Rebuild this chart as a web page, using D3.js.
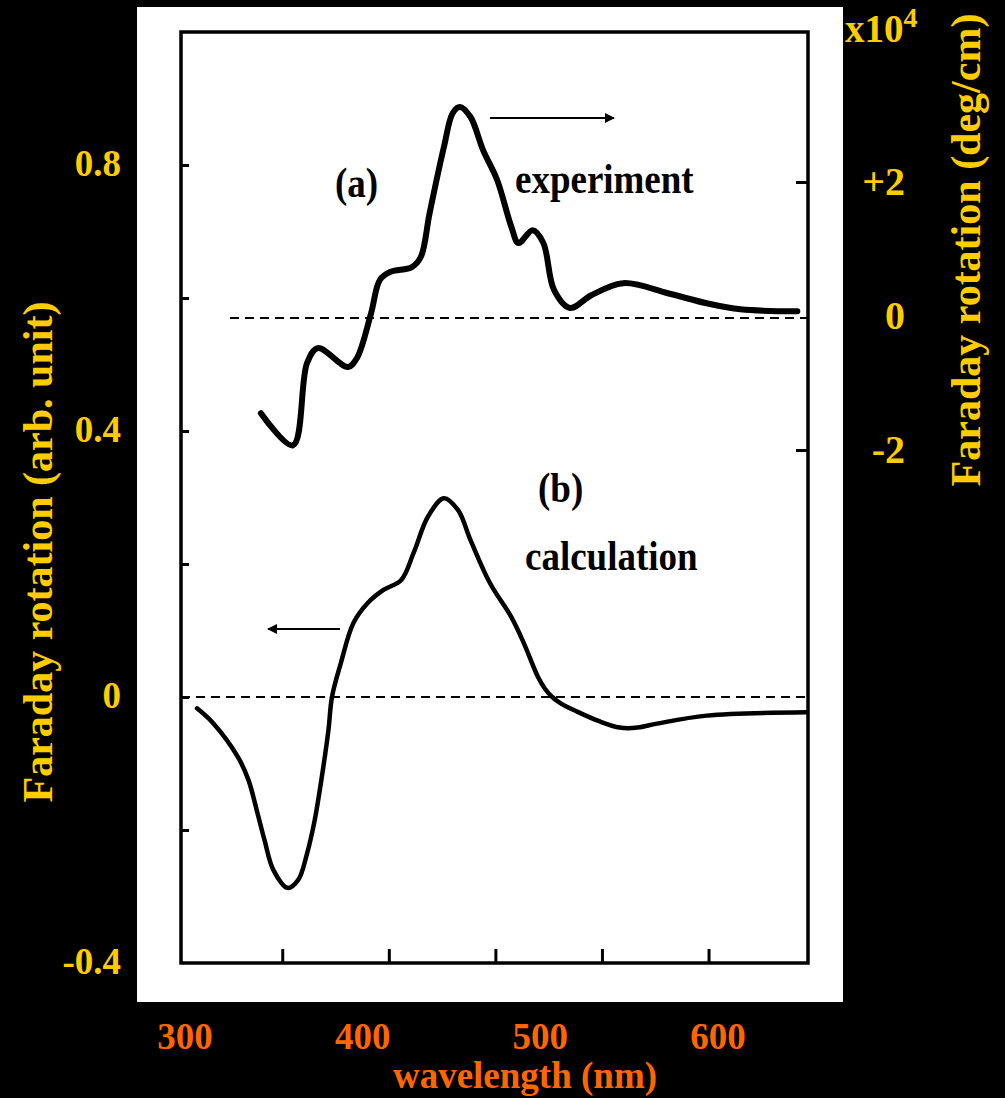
<!DOCTYPE html>
<html>
<head>
<meta charset="utf-8">
<script src="https://cdn.jsdelivr.net/npm/d3@7"></script>
<style>
  html, body { margin: 0; padding: 0; background: #000; }
  text { font-family: "Liberation Serif", "Times New Roman", serif; font-weight: bold; }
</style>
</head>
<body>
<div id="chart"></div>
<script>
// (a) experiment, right axis (x10^4 deg/cm)
const expWavelength = [343, 361, 369, 375, 392, 397, 405, 410, 416, 428, 433, 438, 446, 451, 455, 461, 468, 476, 484, 488, 496, 502, 508, 517, 529, 547, 572, 594, 613, 645];
const expRotation = [-1.45, -1.93, -0.70, -0.48, -0.76, -0.63, 0.04, 0.54, 0.66, 0.73, 0.88, 1.54, 2.52, 3.03, 3.12, 2.97, 2.48, 2.03, 1.33, 1.09, 1.28, 1.09, 0.39, 0.12, 0.31, 0.49, 0.34, 0.19, 0.10, 0.07];

// (b) calculation, left axis (arb. unit)
const calcWavelength = [307, 316, 330, 336, 341, 345, 350, 358, 364, 369, 373, 377, 381, 383, 388, 395, 403, 412, 422, 429, 437, 446, 454, 461, 472, 484, 491, 499, 503, 507, 512, 521, 533, 545, 555, 566, 594, 650];
const calcRotation = [-0.017, -0.039, -0.090, -0.125, -0.174, -0.215, -0.260, -0.287, -0.275, -0.235, -0.189, -0.125, -0.050, 0.0, 0.051, 0.111, 0.141, 0.161, 0.176, 0.217, 0.271, 0.299, 0.281, 0.236, 0.171, 0.120, 0.081, 0.030, 0.012, 0.0, -0.010, -0.022, -0.036, -0.046, -0.046, -0.040, -0.028, -0.023];

const leftTicks = [0.8, 0.6, 0.4, 0.2, 0, -0.2];
const leftLabels = [0.8, 0.4, 0, -0.4];
const rightTicks = [2, -2];
const rightLabels = [2, 0, -2];
const bottomTicks = [355, 415, 475, 535, 595];
const bottomLabels = [300, 400, 500, 600];

const width = 1005;
const height = 1098;
const yellow = "#ffcc00";
const orange = "#ff6600";

const svg = d3.select("#chart")
  .append("svg")
  .attr("width", width)
  .attr("height", height);

svg.append("rect")
  .attr("width", width)
  .attr("height", height)
  .attr("fill", "#000");

// white panel of the scanned figure
svg.append("rect")
  .attr("x", 137)
  .attr("y", 7)
  .attr("width", 706)
  .attr("height", 995)
  .attr("fill", "#fff");

const x = d3.scaleLinear().domain([298, 651]).range([181, 808]);
const y = d3.scaleLinear().domain([-0.4, 1.0]).range([963, 32]);
const y2 = d3.scaleLinear().domain([-2, 2]).range([450, 182]);

// frame
svg.append("rect")
  .attr("x", x.range()[0])
  .attr("y", y.range()[1])
  .attr("width", x.range()[1] - x.range()[0])
  .attr("height", y.range()[0] - y.range()[1])
  .attr("fill", "none")
  .attr("stroke", "#000")
  .attr("stroke-width", 3.5);

// inward ticks
const tickStyle = g => {
  g.select(".domain").remove();
  g.selectAll(".tick line").attr("stroke", "#000").attr("stroke-width", 3);
};

svg.append("g")
  .attr("transform", `translate(${x.range()[0]},0)`)
  .call(d3.axisLeft(y).tickValues(leftTicks).tickSizeInner(-8).tickFormat(""))
  .call(tickStyle);

svg.append("g")
  .attr("transform", `translate(0,${y.range()[0]})`)
  .call(d3.axisBottom(x).tickValues(bottomTicks).tickSizeInner(-14).tickFormat(""))
  .call(tickStyle);

svg.append("g")
  .attr("transform", `translate(${x.range()[1]},0)`)
  .call(d3.axisRight(y2).tickValues(rightTicks).tickSizeInner(-12).tickFormat(""))
  .call(tickStyle);

// tick labels
const labelStyle = (g, color, size) => {
  g.select(".domain").remove();
  g.selectAll(".tick line").remove();
  g.selectAll("text")
    .attr("fill", color)
    .attr("font-size", size)
    .attr("font-family", "Liberation Serif, serif")
    .attr("font-weight", "bold");
};

svg.append("g")
  .attr("transform", `translate(${x.range()[0]},0)`)
  .call(d3.axisLeft(y).tickValues(leftLabels).tickSize(0).tickPadding(60)
    .tickFormat(d => d === 0 ? "0" : d3.format(".1f")(d).replace("−", "-")))
  .call(g => labelStyle(g, yellow, 37))
  .call(g => g.selectAll("text").attr("dy", "0.28em"));

svg.append("g")
  .attr("transform", `translate(0,${y.range()[0]})`)
  .call(d3.axisBottom(x).tickValues(bottomLabels).tickSize(0).tickPadding(60).tickFormat(d3.format("d")))
  .call(g => labelStyle(g, orange, 37));

svg.append("g")
  .attr("transform", `translate(${x.range()[1]},0)`)
  .call(d3.axisRight(y2).tickValues(rightLabels).tickSize(0).tickPadding(97)
    .tickFormat(d => d > 0 ? "+" + d : d < 0 ? "-" + Math.abs(d) : "0"))
  .call(g => labelStyle(g, yellow, 40))
  .call(g => g.selectAll("text").attr("text-anchor", "end").attr("dy", "0.3em"));

// zero lines
svg.append("line")
  .attr("x1", 230).attr("x2", x.range()[1])
  .attr("y1", y2(0) + 2).attr("y2", y2(0) + 2)
  .attr("stroke", "#000").attr("stroke-width", 2)
  .attr("stroke-dasharray", "9,6");

svg.append("line")
  .attr("x1", x.range()[0]).attr("x2", x.range()[1])
  .attr("y1", y(0)).attr("y2", y(0))
  .attr("stroke", "#000").attr("stroke-width", 2)
  .attr("stroke-dasharray", "9,6");

// curves
const expLine = d3.line()
  .x((d, i) => x(expWavelength[i]))
  .y(d => y2(d))
  .curve(d3.curveCatmullRom.alpha(0.5));

svg.append("path")
  .datum(expRotation)
  .attr("fill", "none")
  .attr("stroke", "#000")
  .attr("stroke-width", 6)
  .attr("stroke-linecap", "round")
  .attr("stroke-linejoin", "round")
  .attr("d", expLine);

const calcLine = d3.line()
  .x((d, i) => x(calcWavelength[i]))
  .y(d => y(d))
  .curve(d3.curveCatmullRom.alpha(0.5));

svg.append("path")
  .datum(calcRotation)
  .attr("fill", "none")
  .attr("stroke", "#000")
  .attr("stroke-width", 4.5)
  .attr("stroke-linecap", "round")
  .attr("stroke-linejoin", "round")
  .attr("d", calcLine);

// arrows
const defs = svg.append("defs");
defs.append("marker")
  .attr("id", "head")
  .attr("viewBox", "0 0 10 10")
  .attr("refX", 9).attr("refY", 5)
  .attr("markerWidth", 6).attr("markerHeight", 5)
  .attr("markerUnits", "strokeWidth")
  .attr("orient", "auto")
  .append("path")
  .attr("d", "M0,0L10,5L0,10Z")
  .attr("fill", "#000");

svg.append("line")
  .attr("x1", 490).attr("y1", 118).attr("x2", 614).attr("y2", 118)
  .attr("stroke", "#000").attr("stroke-width", 2)
  .attr("marker-end", "url(#head)");

svg.append("line")
  .attr("x1", 340).attr("y1", 629).attr("x2", 268).attr("y2", 629)
  .attr("stroke", "#000").attr("stroke-width", 2)
  .attr("marker-end", "url(#head)");

// in-plot labels (scanned text is a bit taller than wide)
const note = (tx, ty, s) => svg.append("text")
  .attr("transform", `translate(${tx},${ty}) scale(1,1.16)`)
  .attr("font-size", 37)
  .attr("fill", "#000")
  .text(s);

note(335, 197, "(a)");
note(515, 193, "experiment");
note(538, 502, "(b)");
note(525, 570, "calculation");

// axis titles
svg.append("text")
  .attr("transform", "translate(52,552) rotate(-90)")
  .attr("text-anchor", "middle")
  .attr("font-size", 42)
  .attr("fill", yellow)
  .text("Faraday rotation (arb. unit)");

svg.append("text")
  .attr("transform", "translate(980,250) rotate(-90)")
  .attr("text-anchor", "middle")
  .attr("font-size", 42)
  .attr("fill", yellow)
  .text("Faraday rotation (deg/cm)");

svg.append("text")
  .attr("x", 525).attr("y", 1088)
  .attr("text-anchor", "middle")
  .attr("font-size", 37)
  .attr("fill", orange)
  .text("wavelength (nm)");

const unit = svg.append("text")
  .attr("x", 845).attr("y", 42)
  .attr("font-size", 39)
  .attr("fill", yellow);
unit.append("tspan").text("x10");
unit.append("tspan").attr("dy", -15).attr("font-size", 28).text("4");
</script>
</body>
</html>
